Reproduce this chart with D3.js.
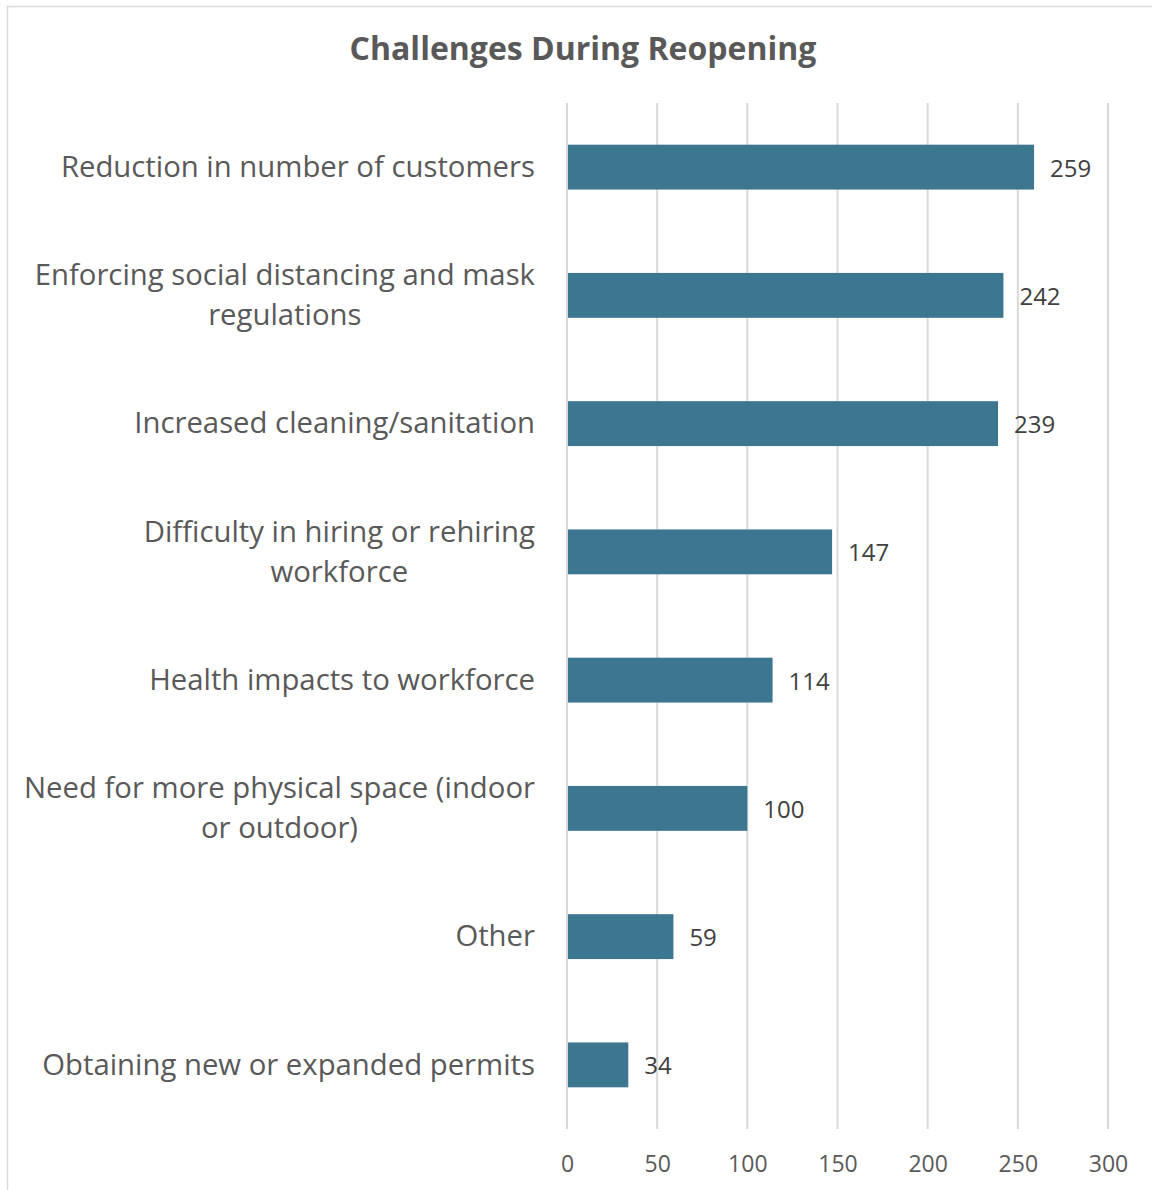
<!DOCTYPE html>
<html>
<head>
<style>
  body { margin: 0; background: #fff; }
  svg { display: block; font-family: "Open Sans", sans-serif; }
</style>
</head>
<body>
<div id="chart"></div>
<script src="https://d3js.org/d3.v7.min.js"></script>
<script>
const categories = [
  'Reduction in number of customers',
  'Enforcing social distancing and mask regulations',
  'Increased cleaning/sanitation',
  'Difficulty in hiring or rehiring workforce',
  'Health impacts to workforce',
  'Need for more physical space (indoor or outdoor)',
  'Other',
  'Obtaining new or expanded permits'
];
const counts = [259, 242, 239, 147, 114, 100, 59, 34];
const xTicks = [0, 50, 100, 150, 200, 250, 300];

const width = 1152, height = 1190;
const margin = { top: 103, right: 44, bottom: 61, left: 567 };

const svg = d3.select('#chart').append('svg')
  .attr('width', width)
  .attr('height', height);

// chart frame (runs off the right and bottom edge)
svg.append('rect')
  .attr('x', 7.5).attr('y', 6.5)
  .attr('width', width + 10).attr('height', height + 10)
  .attr('fill', 'none')
  .attr('stroke', '#d9d9d9')
  .attr('stroke-width', 1.5);

svg.append('text')
  .attr('x', 583).attr('y', 60)
  .attr('text-anchor', 'middle')
  .attr('font-size', 32)
  .attr('font-weight', 'bold')
  .attr('fill', '#595959')
  .text('Challenges During Reopening');

const x = d3.scaleLinear().domain([0, 300]).range([margin.left, width - margin.right]);
const y = d3.scaleBand().domain(categories)
  .range([margin.top, height - margin.bottom])
  .paddingInner(0.65).paddingOuter(0.325);

// gridlines
svg.append('g').selectAll('line')
  .data(xTicks)
  .join('line')
  .attr('x1', d => x(d)).attr('x2', d => x(d))
  .attr('y1', margin.top).attr('y2', height - margin.bottom)
  .attr('stroke', '#d9d9d9')
  .attr('stroke-width', 2);

// x axis labels
const xAxis = svg.append('g')
  .attr('transform', `translate(0,${height - margin.bottom})`)
  .call(d3.axisBottom(x).tickValues(xTicks).tickSize(0).tickPadding(27));
xAxis.select('.domain').remove();
xAxis.selectAll('text')
  .attr('font-family', '"Open Sans", sans-serif')
  .attr('font-size', 23)
  .attr('fill', '#595959');

// bars
svg.append('g').selectAll('rect')
  .data(categories)
  .join('rect')
  .attr('x', x(0) + 1)
  .attr('y', d => y(d))
  .attr('width', (d, i) => x(counts[i]) - x(0) - 1)
  .attr('height', y.bandwidth())
  .attr('fill', '#3d778f');

// value labels
svg.append('g').selectAll('text')
  .data(categories)
  .join('text')
  .attr('x', (d, i) => x(counts[i]) + 16)
  .attr('y', d => y(d) + y.bandwidth() / 2)
  .attr('dy', '0.4em')
  .attr('font-size', 24)
  .attr('fill', '#404040')
  .text((d, i) => counts[i]);

// category labels, wrapped and centred within a right-aligned block
const labelRight = 535, maxW = 518, lineH = 40;
const lab = svg.append('g').attr('font-size', 29.3).attr('fill', '#595959');
categories.forEach(c => {
  const words = c.split(' ');
  const lines = [];
  let cur = [];
  const probe = lab.append('text');
  words.forEach(w => {
    probe.text(cur.concat(w).join(' '));
    if (cur.length && probe.node().getComputedTextLength() > maxW) {
      lines.push(cur.join(' '));
      cur = [w];
    } else cur.push(w);
  });
  lines.push(cur.join(' '));
  const widths = lines.map(l => { probe.text(l); return probe.node().getComputedTextLength(); });
  probe.remove();
  const blockW = d3.max(widths);
  const cx = labelRight - blockW / 2;
  const cy = y(c) + y.bandwidth() / 2;
  const t = lab.append('text')
    .attr('text-anchor', 'middle');
  lines.forEach((l, i) => {
    t.append('tspan')
      .attr('x', cx)
      .attr('y', cy + (i - (lines.length - 1) / 2) * lineH)
      .attr('dy', '0.33em')
      .text(l);
  });
});
</script>
</body>
</html>
